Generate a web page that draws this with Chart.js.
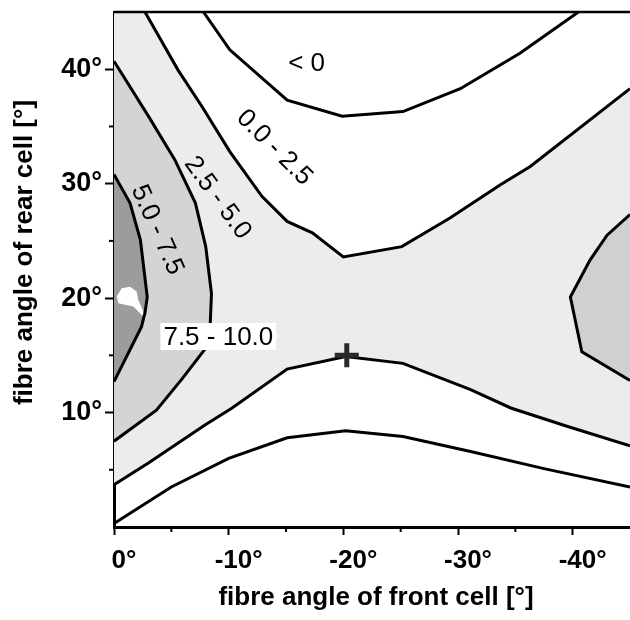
<!DOCTYPE html>
<html><head><meta charset="utf-8">
<script src="https://cdn.jsdelivr.net/npm/chart.js@4/dist/chart.umd.min.js"></script>
<style>html,body{margin:0;padding:0;background:#fff;}</style>
</head><body>
<canvas id="c" width="630" height="620"></canvas>
<script>
// ---- data (angles in degrees: x = fibre angle of front cell, y = fibre angle of rear cell)
const xTicks = [0, -10, -20, -30, -40];
const yTicks = [10, 20, 30, 40];
const minorX = [-5, -15, -25, -35];
const minorY = [5, 15, 25, 35];

// contour lines [x, y]
const lineA = [[-7.8,45],[-10.1,41.7],[-15.1,37.3],[-19.9,35.9],[-25.2,36.3],[-30.2,38.3],[-35.4,41.4],[-40.5,45]];          // 0 level
const lineB = [[-2.7,45],[-5.6,39.9],[-7.7,36.7],[-10.1,32.8],[-12.9,28.9],[-15.1,26.7],[-17.3,25.7],[-20.0,23.6],[-25.1,24.5],[-29.3,27.0],[-33.7,29.9],[-36.3,31.5],[-45,38.3]]; // 2.5 upper
const lineE = [[0,3.7],[-3.0,5.6],[-7.9,8.9],[-10.3,10.4],[-15.1,13.8],[-20.2,14.9],[-25.2,14.3],[-31.1,12.0],[-34.6,10.4],[-39.5,8.8],[-45,7.1]]; // 2.5 lower
const lineF = [[0,0.3],[-5.0,3.5],[-10.0,6.0],[-15.1,7.8],[-20.2,8.4],[-25.2,7.9],[-31.1,6.6],[-37.5,5.1],[-45,3.5]];        // 0 level lower
const lineC = [[0,40.7],[-3.0,35.9],[-5.3,32.1],[-7.1,28.3],[-8.0,24.5],[-8.5,20.4],[-8.4,17.9],[-7.9,15.5],[-5.9,12.9],[-3.7,10.2],[0,7.5]]; // 5.0 left
const lineD = [[0,30.8],[-1.4,28.3],[-2.3,25.1],[-2.9,20.1],[-2.7,18.7],[-2.4,17.5],[-1.7,16.1],[0,12.7]];                      // 7.5 left
const lineG = [[-45,27.3],[-43.0,25.5],[-41.5,23.3],[-39.8,20.1],[-40.8,15.3],[-45,12.8]];                                      // 5.0 right
const whiteSpot = [[-0.24,20.13],[-0.67,20.87],[-1.40,21.0],[-1.98,20.57],[-2.12,19.84],[-2.56,18.82],[-2.85,18.09],[-2.42,18.53],[-1.68,19.26],[-0.96,19.41],[-0.38,19.55]];
const optimum = [[-20.3,15.0]];

const regionText = ['< 0', '0.0 - 2.5', '2.5 - 5.0', '5.0 - 7.5', '7.5 - 10.0'];
const regionX = [-16.8, -14.05, -9.1, -3.84, -9.1];
const regionY = [40.6, 33.2, 28.8, 26.0, 16.6];

const pts = a => a.map(p => ({x: p[0], y: p[1]}));
const band25 = [[0,45], ...lineB, ...lineE.slice().reverse()];

const lineDs = (d, order) => ({data: pts(d), showLine: true, borderColor: '#000', borderWidth: 3, pointRadius: 0, fill: false, tension: 0, order});
const polyDs = (d, color, order) => ({data: pts(d), showLine: true, borderWidth: 0, borderColor: 'rgba(0,0,0,0)', backgroundColor: color, pointRadius: 0, fill: 'shape', tension: 0, order});

const FONT = "'Liberation Sans', Arial, Helvetica, sans-serif";

const annot = {
  id: 'annot',
  afterDatasetsDraw(chart) {
    const {ctx, chartArea: a, scales: {x, y}} = chart;
    ctx.save();
    ctx.strokeStyle = '#000';
    ctx.lineWidth = 2.5;
    ctx.beginPath(); ctx.moveTo(a.left, a.top); ctx.lineTo(a.right, a.top); ctx.stroke();
    ctx.lineWidth = 2;
    minorX.forEach(v => { const px = x.getPixelForValue(v); ctx.beginPath(); ctx.moveTo(px, a.bottom); ctx.lineTo(px, a.bottom + 5); ctx.stroke(); });
    minorY.forEach(v => { const py = y.getPixelForValue(v); ctx.beginPath(); ctx.moveTo(a.left, py); ctx.lineTo(a.left - 5, py); ctx.stroke(); });
    // region labels
    const angles = [0, 45, 54, 66, 0];
    ctx.font = '26px ' + FONT;
    ctx.textAlign = 'center';
    ctx.textBaseline = 'middle';
    regionText.forEach((t, i) => {
      const px = x.getPixelForValue(regionX[i]);
      const py = y.getPixelForValue(regionY[i]);
      ctx.save();
      ctx.translate(px, py);
      ctx.rotate(angles[i] * Math.PI / 180);
      if (i === 4) {
        const w = ctx.measureText(t).width;
        ctx.fillStyle = '#fff';
        ctx.fillRect(-w / 2 - 3, -14, w + 6, 27);
      }
      ctx.fillStyle = '#000';
      ctx.fillText(t, 0, 1);
      ctx.restore();
    });
    // axis titles
    ctx.font = 'bold 26px ' + FONT;
    ctx.fillStyle = '#000';
    ctx.fillText('fibre angle of front cell [°]', (a.left + a.right) / 2 + 4, 598);
    ctx.save();
    ctx.translate(25, (a.top + a.bottom) / 2 - 17);
    ctx.rotate(-Math.PI / 2);
    ctx.fillText('fibre angle of rear cell [°]', 0, 0);
    ctx.restore();
    ctx.restore();
  }
};

const zeroPad = s => { s.paddingLeft = 0; s.paddingRight = 0; s.paddingTop = 0; s.paddingBottom = 0; };

new Chart(document.getElementById('c'), {
  type: 'scatter',
  data: {
    datasets: [
      {data: pts(optimum), pointStyle: 'cross', pointRadius: 12, borderWidth: 5, borderColor: '#2a2a2a', showLine: false, order: 0},
      lineDs(lineA, 1), lineDs(lineB, 1), lineDs(lineE, 1), lineDs(lineF, 1),
      lineDs(lineC, 1), lineDs(lineD, 1), lineDs(lineG, 1),
      polyDs(whiteSpot, '#ffffff', 5),
      polyDs(lineD, '#9c9c9c', 6),
      polyDs(lineC, '#d4d4d4', 7),
      polyDs(lineG, '#d0d0d0', 7),
      polyDs(band25, '#ececec', 8)
    ]
  },
  options: {
    responsive: false,
    animation: false,
    devicePixelRatio: 1,
    layout: {autoPadding: false, padding: {top: 12, right: 0, left: 0, bottom: 0}},
    plugins: {legend: {display: false}, tooltip: {enabled: false}},
    scales: {
      x: {
        type: 'linear', min: -45, max: 0, reverse: true,
        afterFit(s) { s.height = 93; zeroPad(s); },
        afterBuildTicks(s) { s.ticks = xTicks.map(v => ({value: v})); },
        grid: {drawOnChartArea: false, drawTicks: true, tickLength: 8, tickWidth: 2, tickColor: '#000'},
        border: {display: true, color: '#000', width: 3},
        ticks: {color: '#000', font: {family: FONT, size: 26, weight: 'bold'}, padding: 10, labelOffset: 10, maxRotation: 0, autoSkip: false, callback: v => v + '°'}
      },
      y: {
        type: 'linear', min: 0, max: 45,
        afterFit(s) { s.width = 114; zeroPad(s); },
        afterBuildTicks(s) { s.ticks = yTicks.map(v => ({value: v})); },
        grid: {drawOnChartArea: false, drawTicks: true, tickLength: 9, tickWidth: 2, tickColor: '#000'},
        border: {display: true, color: '#000', width: 3},
        ticks: {color: '#000', font: {family: FONT, size: 27, weight: 'bold'}, padding: 3, autoSkip: false, callback: v => v + '°'}
      }
    }
  },
  plugins: [annot]
});
</script>
</body></html>
